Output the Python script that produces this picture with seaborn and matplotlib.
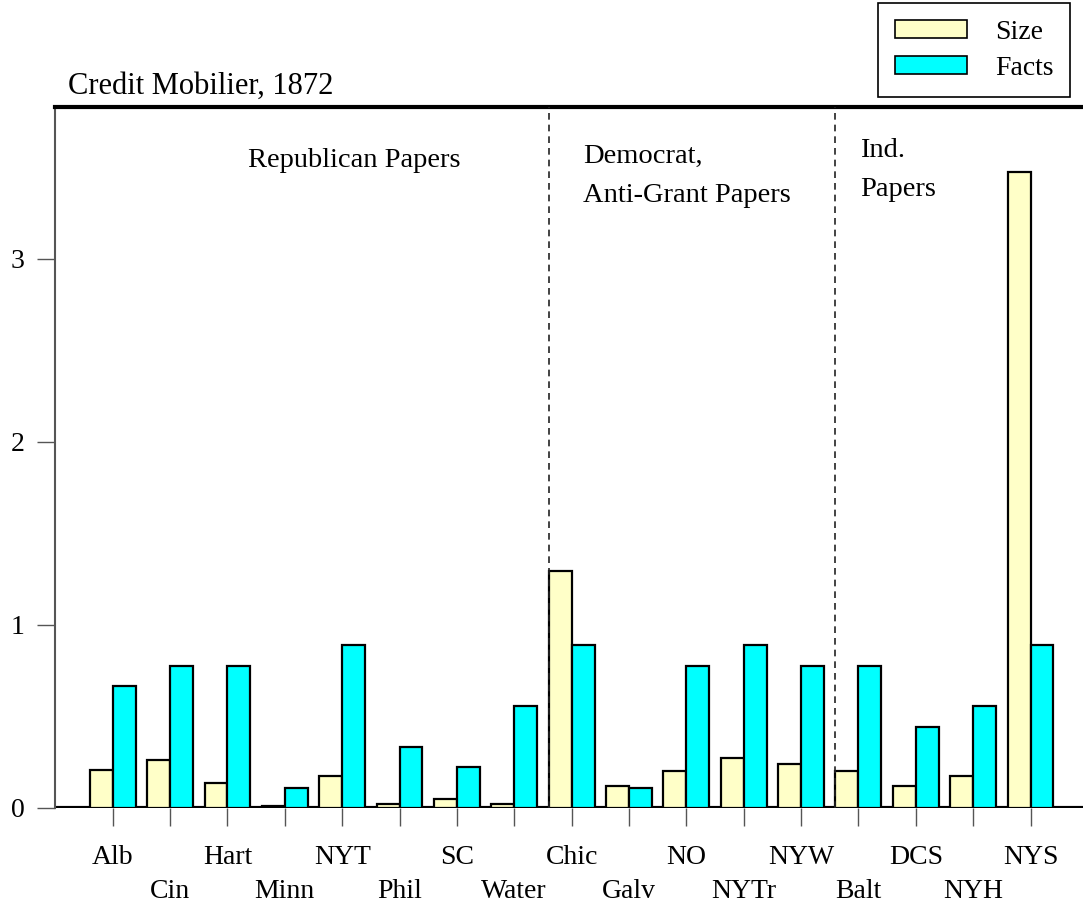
import numpy as np
import pandas as pd
import matplotlib
matplotlib.use("Agg")
import matplotlib.pyplot as plt
import seaborn as sns

# data
papers = ["Alb", "Cin", "Hart", "Minn", "NYT", "Phil", "SC", "Water", "Chic",
          "Galv", "NO", "NYTr", "NYW", "Balt", "DCS", "NYH", "NYS"]
size_vals = [0.207, 0.262, 0.135, 0.013, 0.175, 0.022, 0.047, 0.022, 1.295,
             0.118, 0.20, 0.271, 0.242, 0.204, 0.118, 0.175, 3.475]
facts_vals = [0.667, 0.778, 0.778, 0.111, 0.889, 0.333, 0.222, 0.556, 0.889,
              0.111, 0.778, 0.889, 0.778, 0.778, 0.444, 0.556, 0.889]
series_names = ["Size", "Facts"]
series_colors = ["#FFFFC8", "#00FFFF"]
group_labels = ["Republican Papers", "Democrat,\nAnti-Grant Papers", "Ind.\nPapers"]
group_breaks = ["Chic", "Balt"]   # first paper of each new group

df = pd.DataFrame({
    "paper": papers * 2,
    "series": ["Size"] * len(papers) + ["Facts"] * len(papers),
    "value": size_vals + facts_vals,
})

sns.set_style("ticks")
plt.rcParams["font.family"] = ["Liberation Serif", "DejaVu Serif"]
plt.rcParams["font.size"] = 20
plt.rcParams["text.color"] = "black"
plt.rcParams["xtick.labelcolor"] = "black"
plt.rcParams["ytick.labelcolor"] = "black"

fig = plt.figure(figsize=(10.83, 9.07), dpi=100)
ax = fig.add_axes([0.0508, 0.1092, 0.9492, 0.7728])

sns.barplot(data=df, x="paper", y="value", hue="series", order=papers,
            hue_order=series_names, palette=series_colors, width=0.8,
            edgecolor="black", linewidth=1.6, saturation=1, ax=ax, zorder=3)

ax.set_xlim(-1.006, 16.915)
ax.set_ylim(0, 3.83)
ax.set_xlabel("")
ax.set_ylabel("")

# zero line
ax.axhline(0, color="black", lw=3, zorder=2)

# dashed dividers at the left edge of the first bar of each group
for p in group_breaks:
    xi = papers.index(p) - 0.4
    ax.axvline(xi, color="#222222", lw=1.2, ls=(0, (4, 3)), zorder=4)

# group captions
ax.text(2.36, 3.54, group_labels[0], ha="left", va="center", fontsize=20.5)
ax.text(8.2, 3.63, group_labels[1], ha="left", va="top", fontsize=20.5,
        linespacing=1.75)
ax.text(13.03, 3.66, group_labels[2], ha="left", va="top", fontsize=20.5,
        linespacing=1.75)

# spines
for s in ["right", "bottom"]:
    ax.spines[s].set_visible(False)
ax.spines["top"].set_linewidth(3)
ax.spines["top"].set_color("black")
ax.spines["left"].set_linewidth(1.5)
ax.spines["left"].set_color("#555555")

ax.set_yticks([0, 1, 2, 3])
ax.set_yticklabels(["0", "1", "2", "3"])

# staggered x labels: even positions on major ticks, odd ones on minor ticks
even_pos = list(range(0, len(papers), 2))
odd_pos = list(range(1, len(papers), 2))
ax.set_xticks(even_pos)
ax.set_xticklabels([papers[i] for i in even_pos])
ax.set_xticks(odd_pos, minor=True)
ax.set_xticklabels([papers[i] for i in odd_pos], minor=True)
ax.tick_params(axis="both", which="both", direction="out", length=13, width=1,
               color="#555555", labelsize=20)
ax.tick_params(axis="x", which="major", pad=14)
ax.tick_params(axis="x", which="minor", pad=38)
ax.tick_params(axis="y", pad=9)

# title
fig.text(68 / 1083, 1 - 86 / 907, "Credit Mobilier, 1872", ha="left", va="center",
         fontsize=22)

# legend
handles, labels = ax.get_legend_handles_labels()
leg = ax.legend(handles, labels, loc="upper right",
                bbox_to_anchor=(1070 / 1083, 1 - 3 / 907),
                bbox_transform=fig.transFigure, frameon=True, fancybox=False,
                edgecolor="black", framealpha=1, handlelength=2.6,
                handleheight=0.6, labelspacing=0.4, borderpad=0.6,
                borderaxespad=0, handletextpad=1.0, fontsize=20)
leg.get_frame().set_linewidth(1.2)
for h in leg.legend_handles:
    h.set_edgecolor("black")
    h.set_linewidth(1.2)

fig.savefig("out.png", dpi=100)
